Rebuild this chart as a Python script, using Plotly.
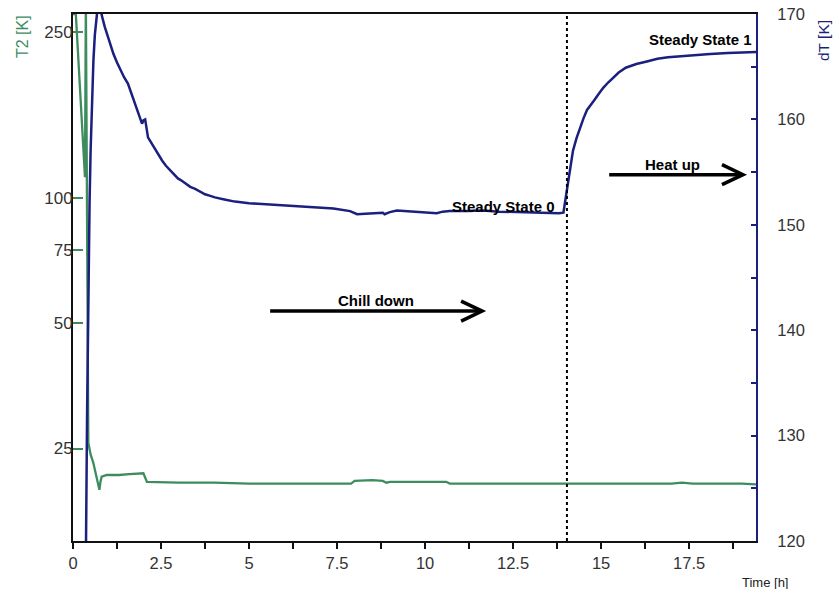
import plotly.graph_objects as go

# ---------------- data ----------------
# dT [K] (right axis) vs time [h]
dT_time = [0.30, 0.37, 0.40, 0.44, 0.47, 0.50, 0.54, 0.58, 0.62, 0.67, 0.72, 0.76, 0.815,
           0.90, 0.99, 1.07, 1.15, 1.25, 1.34, 1.45, 1.56, 1.66, 1.76, 1.86, 1.96, 2.00, 2.05,
           2.13, 2.22, 2.30, 2.41, 2.53, 2.64, 2.75, 2.86, 2.98, 3.10, 3.20, 3.33, 3.47, 3.60,
           3.75, 3.90, 4.03, 4.30, 4.60, 5.00, 5.50, 5.97, 6.40, 6.93, 7.40, 7.87,
           7.95, 8.07, 8.30, 8.60, 8.80, 8.85, 9.00, 9.20, 9.50, 9.76, 10.05, 10.33, 10.50,
           10.70, 11.20, 11.65, 12.10, 12.60, 13.20, 13.80, 13.93, 14.02, 14.10, 14.20,
           14.30, 14.40, 14.50, 14.60, 14.70, 14.80, 14.93, 15.06, 15.20, 15.35, 15.50, 15.70,
           16.00, 16.30, 16.60, 16.90, 17.25, 17.60, 18.10, 18.60, 19.15, 19.40]
dT_values = [110.0, 120.0, 132.0, 145.1, 152.0, 157.0, 161.5, 165.6, 168.0, 170.0, 171.3, 171.3, 169.9,
             168.8, 167.8, 167.0, 166.2, 165.4, 164.7, 164.0, 163.4, 162.5, 161.5, 160.5, 159.6, 159.9, 160.0,
             158.3, 157.8, 157.3, 156.7, 156.1, 155.6, 155.2, 154.8, 154.4, 154.15, 153.9, 153.6, 153.4, 153.15,
             152.9, 152.75, 152.6, 152.4, 152.2, 152.05, 151.95, 151.9, 151.8, 151.7, 151.55, 151.3,
             151.2, 151.0, 151.05, 151.1, 151.15, 151.0, 151.2, 151.35, 151.3, 151.2, 151.2, 151.1, 151.25,
             151.3, 151.3, 151.35, 151.25, 151.2, 151.15, 151.1, 151.15, 153.2, 155.2, 157.0,
             158.2, 159.2, 160.1, 160.9, 161.4, 161.8, 162.4, 163.0, 163.5, 164.0, 164.45, 164.9,
             165.25, 165.5, 165.75, 165.9, 166.0, 166.1, 166.2, 166.3, 166.4, 166.4]

# T2 [K] (left, log axis) vs time [h]
T2_time = [0.0, 0.08, 0.34, 0.365, 0.435, 0.50, 0.577, 0.67, 0.75, 0.78, 0.815, 0.96, 1.3, 1.6,
           1.96, 2.0, 2.1, 3.0, 4.0, 5.0, 6.0, 7.0, 7.9, 8.0, 8.5, 8.8, 8.9, 9.0, 10.0, 10.6,
           10.7, 12.0, 14.0, 16.0, 17.0, 17.3, 17.6, 18.5, 19.0, 19.4]
T2_values = [276, 276, 112, 300, 25.8, 24.2, 23.1, 21.4, 19.9, 20.8, 21.4, 21.6, 21.6, 21.7,
             21.8, 21.8, 20.8, 20.7, 20.7, 20.6, 20.6, 20.6, 20.6, 20.9, 21.0, 20.9, 20.7, 20.8, 20.8, 20.8,
             20.6, 20.6, 20.6, 20.6, 20.6, 20.7, 20.6, 20.6, 20.6, 20.5]

x_tickvals = [0, 2.5, 5, 7.5, 10, 12.5, 15, 17.5]
x_ticktext = ["0", "2.5", "5", "7.5", "10", "12.5", "15", "17.5"]
y_tickvals = [25, 50, 75, 100, 250]
y2_tickvals = [120, 130, 140, 150, 160, 170]

GREEN = "#3e8c5e"
NAVY = "#1b1f7e"
FONT = "Arial, Liberation Sans, sans-serif"

W, H = 833, 589
L, R, T, B = 73, 77, 14, 48
PW, PH = W - L - R, H - T - B


def px(xp):
    return (xp - L) / PW


def py(yp):
    return 1 - (yp - T) / PH


fig = go.Figure()
fig.add_trace(go.Scatter(x=T2_time, y=T2_values, mode="lines",
                         line=dict(color=GREEN, width=2.3), yaxis="y", showlegend=False))
fig.add_trace(go.Scatter(x=dT_time, y=dT_values, mode="lines",
                         line=dict(color=NAVY, width=2.5), yaxis="y2", showlegend=False))

fig.update_layout(
    width=W, height=H,
    margin=dict(l=L, r=R, t=T, b=B, autoexpand=False),
    plot_bgcolor="white", paper_bgcolor="white",
    font=dict(family=FONT, size=16.5, color="#333333"),
    xaxis=dict(range=[0, 19.4], tickvals=x_tickvals, ticktext=x_ticktext,
               showgrid=False, zeroline=False, showline=True, linecolor="#111111",
               linewidth=2, mirror=True, ticks="outside", ticklen=6, tickwidth=1.5,
               tickcolor="#111111",
               minor=dict(dtick=1.25, ticks="outside", ticklen=6, tickwidth=1.5, tickcolor="#111111"),
               tickfont=dict(size=16.5, color="#333333")),
    yaxis=dict(type="log", range=[1.176, 2.441], tickvals=y_tickvals,
               showgrid=False, zeroline=False, showline=True, linecolor="#111111",
               linewidth=2, ticks="inside", ticklen=10, tickwidth=2, tickcolor=GREEN,
               ticklabelstandoff=-5,
               tickfont=dict(size=17, color="#333333")),
    yaxis2=dict(range=[120, 170], tickvals=y2_tickvals, overlaying="y", side="right",
                showgrid=False, zeroline=False, showline=True, linecolor=NAVY,
                linewidth=2, ticks="inside", ticklen=5, tickwidth=1.5, tickcolor=NAVY,
                minor=dict(dtick=5, ticks="inside", ticklen=5, tickwidth=1.5, tickcolor=NAVY),
                ticklabelstandoff=16,
                tickfont=dict(size=16.5, color="#333333")),
)

# dotted vertical separator
fig.add_shape(type="line", xref="x", yref="paper", x0=14.03, x1=14.03, y0=0, y1=1,
              line=dict(color="black", width=2, dash="dot"))

# arrows (shaft in data coords, chevron head in pixels)
arrows = [(5.6, 11.62, 141.81), (15.23, 19.03, 154.76)]
for xs, xe, ya in arrows:
    fig.add_shape(type="line", xref="x", yref="y2", x0=xs, x1=xe, y0=ya, y1=ya,
                  line=dict(color="black", width=3.5))
    fig.add_shape(type="path", xref="x", yref="y2", xsizemode="pixel", ysizemode="pixel",
                  xanchor=xe, yanchor=ya, path="M-21,10 L0,0 L-21,-10",
                  line=dict(color="black", width=3.5))

texts = [("Steady State 0", 12.22, 151.71), ("Steady State 1", 17.81, 167.62),
         ("Heat up", 17.02, 155.71), ("Chill down", 8.61, 142.86)]
for txt, xt, yt in texts:
    fig.add_annotation(x=xt, y=yt, xref="x", yref="y2", text="<b>%s</b>" % txt,
                       showarrow=False, font=dict(family=FONT, size=15, color="black"))

fig.add_annotation(xref="paper", yref="paper", x=px(22), y=py(37),
                   xanchor="center", yanchor="middle",
                   text="T2 [K]", showarrow=False, textangle=-90,
                   font=dict(size=16, color=GREEN))
fig.add_annotation(xref="paper", yref="paper", x=px(824), y=py(40),
                   xanchor="center", yanchor="middle",
                   text="dT [K]", showarrow=False, textangle=-90,
                   font=dict(size=15.5, color=NAVY))
fig.add_annotation(xref="paper", yref="paper", x=px(765), y=py(582),
                   xanchor="center", yanchor="middle",
                   text="Time [h]", showarrow=False,
                   font=dict(size=13, color="#222222"))

fig.write_html("out.html", config={"displayModeBar": False},
               post_script="document.body.style.margin='0';document.body.style.overflow='hidden';")
